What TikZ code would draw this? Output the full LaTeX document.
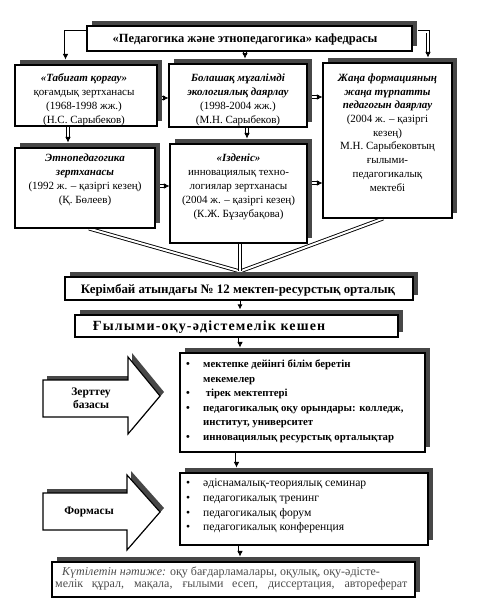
\documentclass[tikz,border=0pt]{standalone}
\usepackage{fontspec}
\setmainfont{Liberation Serif}
\usetikzlibrary{shadows,arrows.meta,backgrounds,decorations.markings}
\begin{document}
\begin{tikzpicture}[x=1pt,y=-1pt,
  box/.style={draw=black, line width=1.15pt, fill=white, inner sep=0pt,
    drop shadow={shadow xshift=5pt, shadow yshift=5pt, opacity=1, fill=black!72}},
  txt/.style={align=center, inner sep=0pt, font=\fontsize{11}{14}\selectfont},
  hdr/.style={inner sep=0pt, font=\bfseries\fontsize{12.5}{14}\selectfont},
  lst/.style={align=left, inner sep=0pt, anchor=north west},
  conn/.style={double=white, draw=black, double distance=2pt, line width=0.9pt},
  tip/.style={shorten >=3.5pt, postaction={decorate},
    decoration={markings, mark=at position 1 with {\pgfsetinnerlinewidth{0pt}\arrow[line width=0.6pt]{Latex[length=5.5pt,width=5.5pt]}}}},
  blockarrow/.style={draw=black, line width=1.15pt, fill=white,
    drop shadow={shadow xshift=4pt, shadow yshift=4pt, opacity=1, fill=black!72}}
]
\useasboundingbox (0,0) rectangle (480,600);
% ---------- boxes
\node[box, minimum width=325pt, minimum height=25pt] (title) at (249.5,38.5) {};
\node[hdr] (titlet) at (245,39) {«Педагогика және этнопедагогика» кафедрасы};

\node[box, minimum width=142pt, minimum height=61pt] (b1) at (86,95.5) {};
\node[txt] (t1) at (84,100) {\textbf{\textit{«Табиғат қорғау»}}\\қоғамдық зертханасы\\(1968-1998 жж.)\\(Н.С. Сарыбеков)};

\node[box, minimum width=138pt, minimum height=63pt] (b2) at (238,95.5) {};
\node[txt] (t2) at (238,100) {\textbf{\textit{Болашақ мұғалімді}}\\\textbf{\textit{экологиялық даярлау}}\\(1998-2004 жж.)\\(М.Н. Сарыбеков)};

\node[box, minimum width=129pt, minimum height=155pt] (b3) at (387.5,140.5) {};
\node[txt, font=\fontsize{11}{13.7}\selectfont] (t3) at (387.5,132.5) {\textbf{\textit{Жаңа формацияның}}\\\textbf{\textit{жаңа түрпатты}}\\\textbf{\textit{педагогын даярлау}}\\(2004 ж. – қазіргі\\кезең)\\М.Н. Сарыбековтың\\ғылыми-\\педагогикалық\\мектебі};

\node[box, minimum width=140pt, minimum height=80pt] (b4) at (85,188) {};
\node[txt] (t4) at (85,180) {\textbf{\textit{Этнопедагогика}}\\\textbf{\textit{зертханасы}}\\(1992 ж. – қазіргі кезең)\\(Қ. Бөлеев)};

\node[box, minimum width=137pt, minimum height=99pt] (b5) at (238.5,193.5) {};
\node[txt] (t5) at (238.5,187) {\textbf{\textit{«Ізденіс»}}\\инновациялық техно-\\логиялар зертханасы\\(2004 ж. – қазіргі кезең)\\(К.Ж. Бұзаубақова)};

\node[box, minimum width=348pt, minimum height=23pt] (k) at (239,288.5) {};
\node[hdr, font=\bfseries\fontsize{12.9}{14}\selectfont] (kt) at (238,290) {Керімбай атындағы № 12 мектеп-ресурстық орталық};

\node[box, minimum width=323pt, minimum height=22pt] (g) at (236.5,326) {};
\node[hdr, font=\bfseries\fontsize{14}{14}\selectfont\addfontfeatures{LetterSpace=8}] (gt) at (209,327) {Ғылыми-оқу-әдістемелік кешен};

\node[box, minimum width=245pt, minimum height=99pt] (z) at (302.5,402.5) {};
\node[lst, font=\bfseries\fontsize{10.8}{14.5}\selectfont] (zt) at (186,360) {%
\makebox[17pt][l]{•}мектепке дейінгі білім беретін\\
\hspace*{17pt}мекемелер\\
\makebox[17pt][l]{•} тірек мектептері\\
\makebox[17pt][l]{•}педагогикалық оқу орындары: колледж,\\
\hspace*{17pt}институт, университет\\
\makebox[17pt][l]{•}инновациялық ресурстық орталықтар};

\node[box, minimum width=248pt, minimum height=72pt] (f) at (304,509) {};
\node[lst, font=\fontsize{11.6}{14.7}\selectfont] (ft) at (186,479) {%
\makebox[17pt][l]{•}әдіснамалық-теориялық семинар\\
\makebox[17pt][l]{•}педагогикалық тренинг\\
\makebox[17pt][l]{•}педагогикалық форум\\
\makebox[17pt][l]{•}педагогикалық конференция};

\node[box, minimum width=363pt, minimum height=35pt] (r) at (233.5,579.5) {};
\node[lst, text=black!70, font=\fontsize{12}{12}\selectfont] (rt) at (55,567) {%
\hspace*{7pt}\textit{Күтілетін нәтиже:} оқу бағдарламалары, оқулық, оқу-әдісте-\\
\makebox[352pt][s]{мелік құрал, мақала, ғылыми есеп, диссертация, автореферат}};

% ---------- block arrows
\path[blockarrow] (43,380) -- (128,380) -- (128,357) -- (160,396) -- (128,434) -- (128,417) -- (43,417) -- cycle;
\node[inner sep=0pt, align=center, font=\bfseries\fontsize{11.5}{13}\selectfont] (za) at (91,398) {Зерттеу\\базасы};
\path[blockarrow] (43,493) -- (127,493) -- (127,475) -- (160,512) -- (127,550) -- (127,530) -- (43,530) -- cycle;
\node[inner sep=0pt, font=\bfseries\fontsize{11.5}{13}\selectfont] (fa) at (89,512) {Формасы};

% ---------- connector end points
\coordinate (tl) at ([yshift=7pt]title.west);
\coordinate (tr) at ([yshift=7pt,xshift=5pt]title.east);
\coordinate (e1) at ([xshift=-20.5pt,yshift=5pt]b1.north);
\coordinate (e3) at ([xshift=40.5pt,yshift=5pt]b3.north);
\coordinate (m) at ([xshift=1pt,yshift=5pt]k.north);

% ---------- connectors
\begin{scope}[on background layer]
\fill[white] (0,0) rectangle (480,600);
\draw[conn,tip] (tr) -- (tr -| e3) -- (e3);
\draw[conn,tip] ([xshift=-4.5pt]title.south) -- ([xshift=7pt,yshift=5pt]b2.north);
\draw[conn,tip] ([yshift=-2.5pt]b1.east) -- ([yshift=-2.5pt]b2.west);
\draw[conn,tip] ([yshift=-1.5pt]b2.east) -- ([yshift=-1.5pt]b2.east -| b3.west);
\draw[conn,tip] ([xshift=-18pt]b1.south) -- ([xshift=-18pt,yshift=5pt]b1.south |- b4.north);
\draw[conn,tip] ([xshift=9pt]b2.south) -- ([xshift=9pt,yshift=5pt]b2.south |- b5.north);
\draw[conn,tip] ([yshift=2pt]b4.east) -- ([yshift=2pt]b4.east -| b5.west);
\draw[conn,tip] ([yshift=10.5pt]b5.east) -- ([yshift=10.5pt]b5.east -| b3.west);
\draw[conn] ([xshift=4pt]b4.south) -- (m);
\draw[conn] ([xshift=-4.5pt]b3.south) -- (m);
\draw[conn] ([xshift=1.5pt]b5.south) -- (m);
\draw[line width=0.8pt,-{Latex[length=5pt,width=5pt]}] ([xshift=1pt]k.south) -- ([xshift=1pt,yshift=5pt]k.south |- g.north);
\draw[conn,double distance=3pt,tip] ([xshift=3.5pt]g.south) -- ([xshift=3.5pt,yshift=5pt]g.south |- z.north);
\draw[conn,tip] (z.south -| g.south) -- ([yshift=5pt]g.south |- f.north);
\draw[conn,double distance=3pt,tip] ([xshift=3.5pt]f.south -| g.south) -- ([xshift=3.5pt,yshift=5pt]g.south |- r.north);
\end{scope}
\draw[conn,tip] (tl) -- (tl -| e1) -- (e1);
\end{tikzpicture}
\end{document}
